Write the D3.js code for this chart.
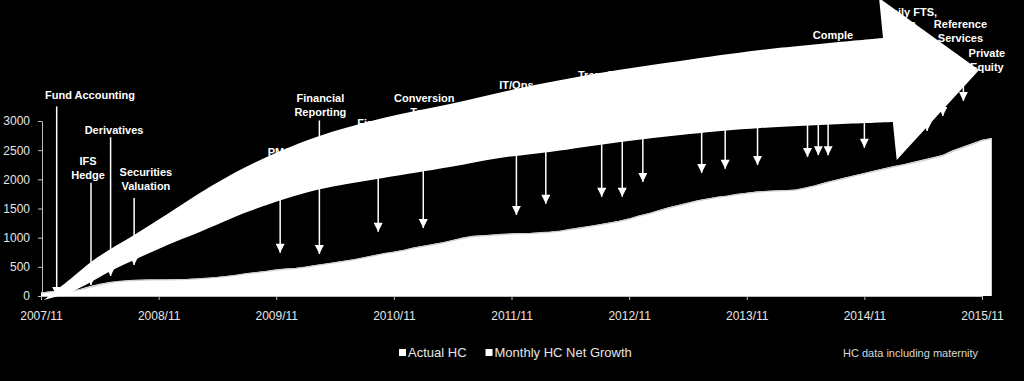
<!DOCTYPE html>
<html>
<head>
<meta charset="utf-8">
<script src="https://cdn.jsdelivr.net/npm/d3@7"></script>
<style>
  html, body { margin: 0; padding: 0; background: #000; }
  svg { display: block; font-family: Arial, "Liberation Sans", sans-serif; }
</style>
</head>
<body>
<div id="chart"></div>
<script>

// x ticks, one per year (month index 0, 12, 24 ...)
var yearTicks = ["2007/11", "2008/11", "2009/11", "2010/11", "2011/11", "2012/11", "2013/11", "2014/11", "2015/11"];
var yTicks = [0, 500, 1000, 1500, 2000, 2500, 3000];

// monthly head count, 2007/11 -> 2015/12
var actualHC = [
    60, 80, 85, 90, 120, 170, 210, 240, 255, 270,
    275, 280, 280, 282, 285, 290, 300, 310, 325, 345,
    365, 390, 410, 430, 455, 470, 480, 500, 530, 555,
    580, 605, 630, 665, 700, 735, 760, 790, 830, 860,
    890, 920, 960, 1000, 1030, 1040, 1050, 1060, 1070, 1075,
    1080, 1090, 1100, 1120, 1150, 1175, 1200, 1230, 1260, 1290,
    1330, 1380, 1420, 1470, 1520, 1560, 1600, 1640, 1670, 1700,
    1720, 1750, 1770, 1790, 1800, 1810, 1815, 1825, 1860, 1900,
    1950, 1990, 2030, 2070, 2110, 2150, 2190, 2230, 2260, 2300,
    2340, 2380, 2420, 2500, 2560, 2620, 2680, 2710
];

var netGrowth = [
    50, 70, 80, 85, 110, 150, 190, 230, 250, 262,
    270, 275, 276, 278, 282, 286, 295, 305, 318, 338,
    358, 382, 402, 422, 446, 462, 474, 494, 522, 546,
    572, 598, 622, 656, 692, 726, 752, 782, 820, 852,
    882, 912, 950, 990, 1020, 1032, 1044, 1054, 1064, 1070,
    1074, 1084, 1094, 1112, 1140, 1166, 1192, 1220, 1250, 1280,
    1320, 1368, 1410, 1458, 1508, 1550, 1590, 1630, 1660, 1690,
    1712, 1740, 1760, 1780, 1792, 1802, 1808, 1816, 1848, 1888,
    1936, 1978, 2018, 2058, 2096, 2136, 2176, 2214, 2246, 2284,
    2322, 2362, 2402, 2478, 2540, 2600, 2664, 2696
];

// callout texts, [month, value] of centre / first baseline
var calloutLines = [
    ["Fund Accounting"], ["IFS", "Hedge"], ["Derivatives"], ["Securities", "Valuation"],
    ["PMO"], ["Financial", "Reporting"], ["Financial", "Control"], ["Conversion", "Team"],
    ["IT/Ops"], ["Transfer", "Agency"], ["Comple"], ["Daily FTS,", "TA"],
    ["Reference", "Services"], ["Private", "Equity"]
];
var calloutPos = [
    [5.0, 3380], [4.8, 2250], [7.45, 2777], [10.7, 2057],
    [24.4, 2400], [28.5, 3326], [34.7, 2897], [39.1, 3326],
    [48.5, 3549], [57.0, 3720], [80.8, 4406], [88.7, 4800],
    [93.8, 4594], [96.5, 4097]
];

// down arrows: [month, from value, tip value]
var calloutArrows = [
    [1.6, 3250, 0], [5.1, 1940, 190], [7.1, 2720, 343], [9.5, 1680, 530],
    [24.4, 2280, 740], [28.4, 3010, 720], [34.4, 2800, 1100], [39.0, 3010, 1165],
    [48.5, 3440, 1390], [51.5, 3000, 1580], [57.2, 3400, 1700], [59.3, 3000, 1700],
    [61.4, 3000, 1955], [67.4, 3200, 2110], [69.8, 3200, 2180], [73.1, 3200, 2245],
    [78.2, 3300, 2385], [79.3, 3300, 2415], [80.3, 3300, 2415], [84.0, 3300, 2540],
    [90.4, 4050, 2830], [92.0, 4050, 3085], [94.1, 3700, 3345]
];

// big growth arrow outline, [month, value]
var arrowTopEdge = [
    [0.3, -69], [3.0, 291], [5.1, 583], [7.1, 806], [9.5, 1046], [12.9, 1406],
    [16.2, 1766], [21.3, 2246], [28.1, 2726], [34.9, 3051], [41.7, 3291],
    [48.9, 3566], [57.0, 3823], [65.2, 4029], [73.4, 4217], [85.9, 4423]
];
var arrowHead = [[85.5, 5108], [95.7, 3874], [87.3, 2331]];
var arrowBottomEdge = [
    [0.3, -69], [3.0, 69], [5.1, 240], [7.1, 429], [9.5, 617], [12.9, 874],
    [16.2, 1097], [21.3, 1457], [28.1, 1817], [34.9, 2023], [41.7, 2211],
    [46.8, 2366], [51.9, 2469], [59.1, 2640], [66.2, 2777], [73.4, 2880], [86.9, 2983]
];

var legendItems = ["Actual HC", "Monthly HC Net Growth"];
var note = "HC data including maternity";


var width = 1024,
    height = 381;

var svg = d3.select("#chart").append("svg")
    .attr("width", width)
    .attr("height", height);

svg.append("rect")
    .attr("width", width)
    .attr("height", height)
    .attr("fill", "#000");

var x = d3.scaleLinear().domain([0, 96]).range([41, 982]);
var y = d3.scaleLinear().domain([0, 3000]).range([296, 121]);

// axes
var yAxis = svg.append("g")
    .attr("transform", "translate(" + (x(0) + 1) + ",0)")
    .call(d3.axisLeft(y).tickValues(yTicks).tickFormat(d3.format("d"))
        .tickSize(4).tickPadding(8).tickSizeOuter(0));

var xAxis = svg.append("g")
    .attr("transform", "translate(0," + y(0) + ")")
    .call(d3.axisBottom(x)
        .tickValues(yearTicks.map(function(d, i) { return i * 12; }))
        .tickFormat(function(d) { return yearTicks[d / 12]; })
        .tickSize(4).tickPadding(11).tickSizeOuter(0));

svg.selectAll(".tick line, .domain").attr("stroke", "#bfbfbf");
svg.selectAll(".tick text")
    .attr("fill", "#e6e6e6")
    .attr("font-size", 12)
    .attr("font-family", "Arial, 'Liberation Sans', sans-serif");

// head count area
var area = d3.area()
    .x(function(d, i) { return x(i); })
    .y0(y(0))
    .y1(function(d) { return y(d); });

svg.append("path")
    .datum(actualHC)
    .attr("d", area)
    .attr("fill", "#fff");

var line = d3.line()
    .x(function(d, i) { return x(i); })
    .y(function(d) { return y(d); });

svg.append("path")
    .datum(netGrowth)
    .attr("d", line)
    .attr("fill", "none")
    .attr("stroke", "#cfcfcf")
    .attr("stroke-width", 1.3);

// callouts
svg.append("defs").append("marker")
    .attr("id", "tip")
    .attr("viewBox", "0 0 10 10")
    .attr("refX", 10)
    .attr("refY", 5)
    .attr("markerWidth", 10)
    .attr("markerHeight", 9)
    .attr("markerUnits", "userSpaceOnUse")
    .attr("orient", "auto")
    .append("path")
    .attr("d", "M0,0L10,5L0,10Z")
    .attr("fill", "#fff");

svg.append("g").selectAll("line")
    .data(calloutArrows)
    .enter().append("line")
    .attr("x1", function(d) { return x(d[0]); })
    .attr("x2", function(d) { return x(d[0]); })
    .attr("y1", function(d) { return y(d[1]); })
    .attr("y2", function(d) { return y(d[2]); })
    .attr("stroke", "#fff")
    .attr("stroke-width", 1.5)
    .attr("marker-end", "url(#tip)");

var labels = svg.append("g")
    .attr("font-size", 11)
    .attr("font-weight", "bold")
    .attr("fill", "#fff")
    .attr("text-anchor", "middle")
    .selectAll("text")
    .data(calloutLines)
    .enter().append("text")
    .attr("x", function(d, i) { return x(calloutPos[i][0]); })
    .attr("y", function(d, i) { return y(calloutPos[i][1]); });

labels.selectAll("tspan")
    .data(function(d) { return d; })
    .enter().append("tspan")
    .attr("x", function() { return this.parentNode.getAttribute("x"); })
    .attr("dy", function(d, i) { return i ? 14 : 0; })
    .text(function(d) { return d; });

// big white growth arrow, drawn last so it covers the callouts
var edge = d3.line()
    .x(function(d) { return x(d[0]); })
    .y(function(d) { return y(d[1]); })
    .curve(d3.curveCatmullRom.alpha(0.5));

var topD = edge(arrowTopEdge),
    botD = edge(arrowBottomEdge.slice().reverse()),
    headD = arrowHead.map(function(p) { return "L" + x(p[0]) + "," + y(p[1]); }).join("");

svg.append("path")
    .attr("d", topD + headD + "L" + botD.slice(1) + "Z")
    .attr("fill", "#fff");

// legend
var legend = svg.append("g")
    .attr("font-size", 13)
    .attr("fill", "#e6e6e6");

var lx = 399;
legendItems.forEach(function(name) {
    legend.append("rect")
        .attr("x", lx)
        .attr("y", 349)
        .attr("width", 7)
        .attr("height", 7)
        .attr("fill", "#fff");
    var t = legend.append("text")
        .attr("x", lx + 9)
        .attr("y", 357)
        .text(name);
    lx += 9 + t.node().getComputedTextLength() + 19;
});

svg.append("text")
    .attr("x", 843)
    .attr("y", 357)
    .attr("font-size", 11)
    .attr("fill", "#d9d9d9")
    .text(note);

</script>
</body>
</html>
